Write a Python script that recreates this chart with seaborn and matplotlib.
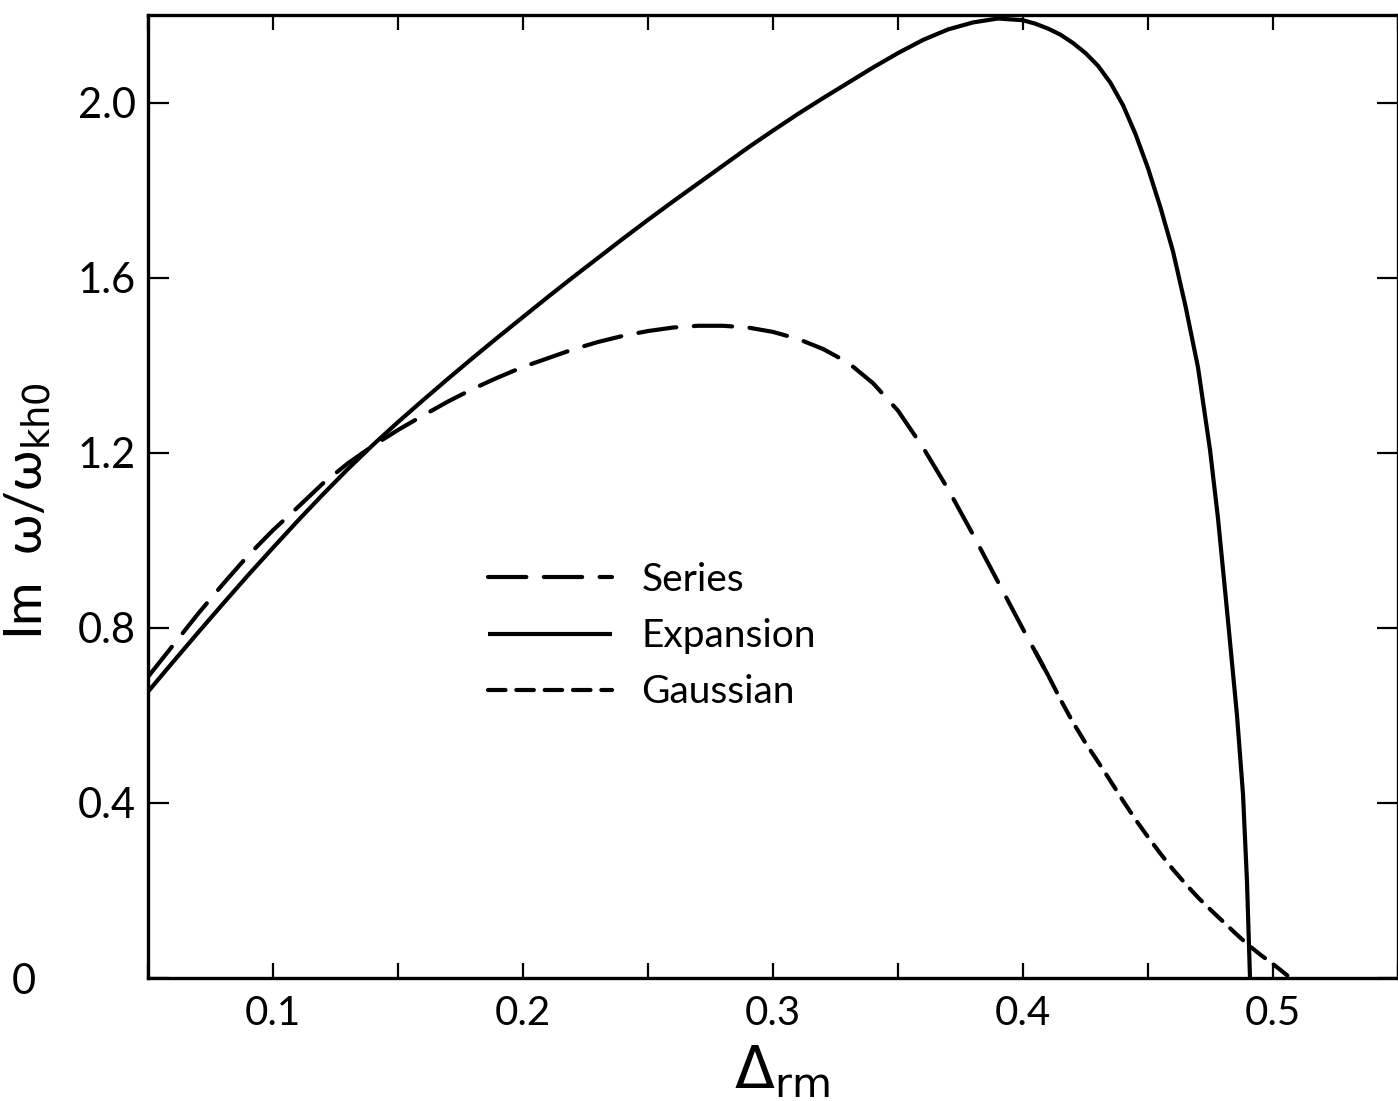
import numpy as np
import pandas as pd
import matplotlib
matplotlib.use("Agg")
import matplotlib.pyplot as plt
from matplotlib.ticker import FixedLocator, MultipleLocator
import seaborn as sns

# Growth rate vs. Delta_rm for the three approximations
series_x = [0.05, 0.06, 0.07, 0.08, 0.09, 0.10, 0.11, 0.12, 0.13, 0.14,
            0.15, 0.16, 0.17, 0.18, 0.19, 0.20, 0.21, 0.22, 0.23, 0.24,
            0.25, 0.26, 0.27, 0.28, 0.29, 0.30, 0.31, 0.32, 0.33, 0.34,
            0.35, 0.36, 0.37, 0.38, 0.39, 0.40, 0.41]
series_y = [0.688, 0.760, 0.832, 0.900, 0.965, 1.023, 1.076, 1.130, 1.176, 1.216,
            1.252, 1.285, 1.317, 1.346, 1.372, 1.396, 1.416, 1.436, 1.453, 1.467,
            1.478, 1.486, 1.490, 1.490, 1.486, 1.476, 1.460, 1.437, 1.406, 1.359,
            1.296, 1.212, 1.117, 1.013, 0.905, 0.797, 0.692]

expansion_x = [0.05, 0.06, 0.07, 0.08, 0.09, 0.10, 0.11, 0.12, 0.13, 0.14,
               0.15, 0.16, 0.17, 0.18, 0.19, 0.20, 0.21, 0.22, 0.23, 0.24,
               0.25, 0.26, 0.27, 0.28, 0.29, 0.30, 0.31, 0.32, 0.33, 0.34,
               0.35, 0.36, 0.37, 0.38, 0.39, 0.40, 0.405, 0.41, 0.415, 0.42,
               0.425, 0.43, 0.435, 0.44, 0.445, 0.45, 0.455, 0.46, 0.465, 0.47,
               0.4748, 0.478, 0.4816, 0.4856, 0.488, 0.4896, 0.4908]
expansion_y = [0.654, 0.722, 0.789, 0.855, 0.920, 0.983, 1.045, 1.105, 1.163, 1.218,
               1.270, 1.320, 1.369, 1.417, 1.464, 1.510, 1.556, 1.601, 1.645, 1.689,
               1.732, 1.774, 1.815, 1.856, 1.897, 1.936, 1.974, 2.010, 2.045, 2.080,
               2.113, 2.143, 2.167, 2.183, 2.192, 2.188, 2.180, 2.169, 2.155, 2.136,
               2.113, 2.084, 2.045, 1.994, 1.928, 1.850, 1.760, 1.660, 1.535, 1.395,
               1.207, 1.050, 0.840, 0.600, 0.420, 0.220, 0.0]

gaussian_x = [0.405, 0.41, 0.415, 0.42, 0.425, 0.43, 0.435, 0.44, 0.445, 0.45,
              0.455, 0.46, 0.465, 0.47, 0.475, 0.48, 0.485, 0.49, 0.495, 0.50,
              0.507]
gaussian_y = [0.745, 0.692, 0.636, 0.584, 0.537, 0.494, 0.450, 0.405, 0.362, 0.322,
              0.284, 0.248, 0.215, 0.184, 0.156, 0.129, 0.102, 0.076, 0.053, 0.032,
              0.0]

x_ticks = [0.1, 0.2, 0.3, 0.4, 0.5]
x_ticklabels = ["0.1", "0.2", "0.3", "0.4", "0.5"]
y_ticks = [0.0, 0.4, 0.8, 1.2, 1.6, 2.0]
y_ticklabels = ["0", "0.4", "0.8", "1.2", "1.6", "2.0"]

sns.set_theme(style="white")
plt.rcParams["font.family"] = ["Lato", "DejaVu Sans"]
plt.rcParams["mathtext.fontset"] = "dejavusans"
plt.rcParams["text.color"] = "black"

fig = plt.figure(figsize=(13.98, 11.01), dpi=100)
fig.patch.set_facecolor("white")
W, H = 1398, 1101
ax = fig.add_axes([148 / W, 1 - 978 / H, 1250 / W, 963 / H])
ax.set_facecolor("white")

lw = 3.0
frames = [
    ("Series", series_x, series_y, (9.2, 4.2)),
    ("Expansion", expansion_x, expansion_y, None),
    ("Gaussian", gaussian_x, gaussian_y, (4.2, 2.6)),
]
for name, xs, ys, dash in frames:
    df = pd.DataFrame({"x": xs, "y": ys})
    sns.lineplot(data=df, x="x", y="y", ax=ax, color="black", linewidth=lw,
                 estimator=None, sort=False, label=name)
    line = ax.lines[-1]
    line.set_solid_capstyle("butt")
    line.set_solid_joinstyle("round")
    if dash is not None:
        line.set_dashes(dash)
        line.set_dash_capstyle("round")

ax.set_xlim(0.05, 0.55)
ax.set_ylim(0.0, 2.2)

ax.xaxis.set_major_locator(FixedLocator(x_ticks))
ax.xaxis.set_minor_locator(MultipleLocator(0.05))
ax.set_xticklabels(x_ticklabels)
ax.yaxis.set_major_locator(FixedLocator(y_ticks))
ax.set_yticklabels(y_ticklabels)

ax.tick_params(axis="x", which="both", direction="in", length=11, width=1.6,
               top=True, bottom=True, pad=12, labelsize=29,
               color="black", labelcolor="black")
ax.tick_params(axis="y", which="both", direction="in", length=15, width=1.6,
               left=True, right=True, pad=9, labelsize=30,
               color="black", labelcolor="black")
for s in ax.spines.values():
    s.set_linewidth(2.4)
    s.set_color("black")

# the zero label sits out at the far left
zero_tick = ax.yaxis.get_major_ticks()[0]
zero_tick.label1.set_x(-0.08)

ax.set_xlabel(r"$\Delta_{\mathrm{rm}}$", fontsize=42, color="black")
ax.xaxis.set_label_coords(0.507, -0.068)
ax.set_ylabel(r"Im  ω/ω$_{\mathrm{kh0}}$", fontsize=38, color="black")
ax.yaxis.set_label_coords(-0.075, 0.485)

leg = ax.legend(loc="center left", bbox_to_anchor=(0.272, 0.355),
                frameon=False, fontsize=28, handlelength=3.2,
                handletextpad=0.75, labelspacing=0.52, borderpad=0,
                borderaxespad=0)
for t in leg.get_texts():
    t.set_color("black")

fig.savefig("out.png", dpi=100, facecolor="white")
